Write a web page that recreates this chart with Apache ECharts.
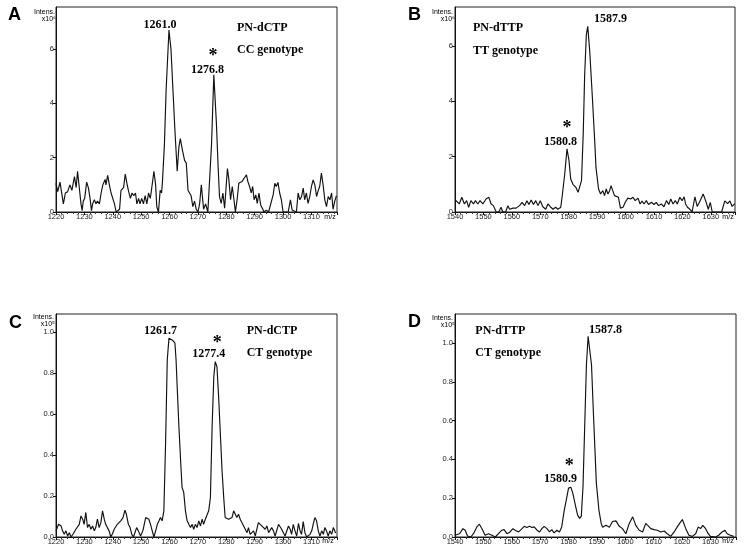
<!DOCTYPE html>
<html><head><meta charset="utf-8">
<script src="https://cdn.jsdelivr.net/npm/echarts@6/dist/echarts.min.js"></script>
<style>html,body{margin:0;padding:0;background:#fff}#c{width:746px;height:559px}</style>
</head><body><div id="c"></div>
<script>
// ---------- Panel A: PN-dCTP, CC genotype (x10^6) ----------
const mzA = [1220.0,1220.6,1221.4,1222.6,1223.3,1224.1,1224.9,1225.6,1226.5,1227.1,1227.6,1228.2,1228.8,1229.2,1229.6,1230.1,1230.8,1231.4,1232.0,1232.5,1232.9,1233.5,1234.1,1234.6,1235.3,1235.9,1236.5,1237.3,1237.6,1238.2,1238.8,1239.4,1240.0,1240.6,1241.2,1241.8,1242.4,1242.9,1243.8,1244.4,1244.9,1245.5,1246.2,1246.8,1247.4,1248.0,1248.5,1249.1,1249.6,1250.2,1250.8,1251.4,1252.0,1252.6,1253.2,1253.5,1254.5,1255.1,1255.5,1256.1,1256.7,1257.2,1257.5,1258.2,1258.8,1259.8,1260.5,1261.2,1261.9,1262.7,1263.3,1263.8,1264.5,1265.3,1265.9,1266.5,1267.1,1267.6,1268.2,1268.8,1269.4,1270.0,1270.6,1271.2,1272.0,1272.7,1273.5,1274.1,1274.8,1275.6,1276.5,1277.1,1277.6,1278.2,1278.8,1279.4,1280.4,1280.9,1281.5,1282.1,1282.7,1283.2,1283.8,1284.4,1284.9,1285.5,1286.2,1287.1,1287.6,1288.2,1288.8,1289.3,1289.8,1290.4,1290.9,1291.5,1292.1,1292.7,1293.3,1294.1,1294.9,1295.6,1296.5,1297.1,1297.6,1298.2,1298.8,1299.4,1300.0,1300.8,1301.8,1302.6,1303.2,1303.9,1304.7,1305.3,1305.9,1306.5,1307.1,1307.6,1308.2,1308.8,1309.4,1310.0,1310.6,1311.2,1311.8,1312.4,1312.9,1313.5,1314.1,1314.7,1315.3,1315.9,1316.5,1317.1,1317.6,1318.2,1318.8];
const intA = [1.05,0.75,1.1,0.3,0.7,0.75,1.0,0.8,1.3,0.9,1.5,0.9,0.3,0.05,0.4,0.5,1.1,0.9,0.5,0.05,0.3,0.45,0.3,0.4,0.3,0.7,1.0,1.2,1.0,1.35,1.0,0.7,0.7,0.3,0,0,0.1,0.8,0.9,1.4,1.1,0.8,0.5,0.7,0.6,0.7,0.3,0.5,0.3,0.5,0.3,0.6,0.3,0.7,0.5,0.7,1.5,1.0,0.2,0,0.8,0.7,1.1,2.5,4.5,6.7,6.0,4.5,3.0,1.5,2.4,2.7,2.3,1.9,1.8,0.8,0.75,0.6,0.2,0.4,0.1,0,0.3,1.0,0.1,0.3,0,0,2.5,5.05,3.3,1.7,0.57,0.32,0.7,0.14,1.6,1.2,0.45,0.94,0.45,0,0.45,1.06,1.0,1.12,1.06,1.37,1.12,0.94,0.7,0.94,0.45,0.63,0.32,0.7,0.26,0.14,0,0.07,0,0,0.63,1.06,0.94,1.09,0.7,0.45,0,0,0,0.45,0.07,0,0,0.7,0.45,0.57,0.88,0.45,0.7,0.32,0.57,0.94,1.18,1.0,0.57,0.8,0.94,1.43,1.0,0.45,0.2,0.57,0.45,0.7,0.1,0.4,0.6];

// ---------- Panel B: PN-dTTP, TT genotype (x10^6) ----------
const mzB = [1540.0,1540.6,1541.5,1542.4,1543.3,1544.1,1544.8,1545.6,1546.5,1547.2,1548.0,1548.8,1549.8,1550.9,1551.9,1552.7,1553.5,1554.5,1555.4,1556.2,1556.8,1557.8,1558.6,1559.2,1560.4,1561.5,1562.7,1563.6,1564.5,1565.3,1566.0,1566.8,1567.6,1568.4,1569.2,1570.0,1570.9,1571.9,1572.7,1573.5,1574.5,1575.4,1576.2,1577.2,1577.8,1578.6,1579.4,1580.1,1580.7,1581.5,1582.5,1583.3,1583.9,1584.5,1585.1,1585.6,1586.2,1586.7,1587.4,1588.4,1589.2,1589.6,1590.5,1591.2,1592.0,1592.6,1593.2,1593.8,1594.4,1594.9,1595.5,1596.1,1596.7,1597.5,1598.2,1599.1,1599.9,1600.8,1601.8,1602.6,1603.4,1604.4,1605.1,1605.8,1606.5,1607.3,1608.1,1609.1,1610.0,1610.8,1611.6,1612.6,1613.5,1614.4,1615.2,1615.9,1616.7,1617.5,1618.2,1619.1,1619.9,1620.6,1621.1,1621.8,1622.6,1623.4,1624.4,1625.2,1626.0,1627.3,1628.2,1629.1,1629.8,1630.5,1633.8,1634.9,1635.9,1636.7,1637.5,1638.4];
const intB = [0.45,0.47,0.29,0.53,0.29,0.41,0.17,0.41,0.29,0.41,0.29,0.41,0.29,0.47,0.53,0.29,0.23,0,0,0.17,0,0,0.23,0.1,0.14,0.14,0.23,0.35,0.23,0.41,0.27,0.43,0.27,0.41,0.23,0.41,0.19,0.1,0.29,0.19,0.1,0.17,0.1,0.17,0.65,1.37,2.28,1.86,1.19,1.0,0.89,0.71,0.67,1.13,2.8,4.9,6.4,6.7,5.8,4.0,2.46,1.6,0.83,0.65,0.77,0.59,0.83,0.65,0.77,0.95,0.77,0.59,0.55,0.53,0.14,0.17,0.35,0.5,0.47,0.53,0.41,0.5,0.29,0.39,0.29,0.41,0.27,0.35,0.27,0.35,0.23,0.29,0.19,0.41,0.27,0.47,0.29,0.41,0.29,0.53,0.41,0.55,0.29,0.17,0.1,0,0.55,0.2,0.35,0.65,0.4,0.1,0.35,0,0,0.4,0.3,0.4,0.2,0.3];

// ---------- Panel C: PN-dCTP, CT genotype ----------
const mzC = [1220.0,1220.9,1221.8,1222.3,1222.9,1223.5,1224.1,1224.7,1225.3,1226.1,1227.0,1227.6,1228.2,1228.8,1229.4,1229.9,1230.5,1231.1,1231.7,1232.3,1232.9,1233.5,1234.0,1234.6,1235.2,1235.8,1236.4,1237.0,1237.5,1238.1,1238.7,1239.3,1239.9,1240.5,1241.1,1241.6,1242.2,1242.8,1243.6,1244.3,1244.8,1245.5,1246.1,1246.7,1247.3,1247.8,1248.4,1249.0,1249.8,1250.6,1251.6,1252.2,1252.7,1253.3,1253.9,1254.5,1255.1,1255.7,1256.3,1256.8,1257.4,1258.0,1258.6,1259.2,1259.8,1260.4,1261.2,1261.9,1262.3,1262.8,1263.3,1263.9,1264.4,1265.0,1265.6,1266.2,1266.8,1267.4,1268.0,1268.5,1269.1,1269.7,1270.3,1270.9,1271.5,1272.0,1272.6,1273.2,1273.8,1274.4,1275.0,1275.6,1276.1,1276.7,1277.3,1277.9,1278.5,1279.1,1279.6,1280.2,1280.8,1281.4,1282.0,1282.6,1283.2,1283.7,1284.3,1284.9,1285.5,1286.1,1286.7,1287.3,1287.8,1288.4,1289.0,1289.6,1290.2,1290.8,1291.3,1291.9,1292.5,1293.1,1293.7,1294.3,1294.9,1295.4,1296.0,1296.6,1297.2,1298.4,1298.9,1299.5,1300.1,1300.7,1301.3,1301.9,1302.5,1303.0,1303.6,1304.2,1304.8,1305.4,1306.0,1306.5,1307.1,1307.7,1308.3,1309.5,1310.1,1310.6,1311.2,1311.8,1312.4,1313.0,1313.6,1314.2,1314.7,1315.3,1315.9,1316.5,1317.1,1317.7,1318.5];
const intC = [0.03,0.062,0.054,0.03,0.013,0.03,0.005,0.021,0,0.016,0.038,0.033,0.062,0.103,0.087,0.062,0.12,0.046,0.062,0.038,0.054,0.03,0.046,0.087,0.046,0.07,0.128,0.087,0.062,0.046,0.03,0,0.016,0.038,0.046,0.062,0.054,0.079,0.095,0.131,0.111,0.062,0.046,0.013,0,0.021,0.046,0.03,0.005,0.03,0.095,0.103,0.087,0.062,0.03,0,0.03,0.062,0.079,0.095,0.079,0.128,0.456,0.866,0.972,0.967,0.96,0.948,0.866,0.70,0.54,0.374,0.243,0.218,0.128,0.079,0.062,0.046,0.062,0.038,0.062,0.046,0.079,0.054,0.087,0.062,0.087,0.079,0.128,0.193,0.54,0.784,0.857,0.833,0.685,0.505,0.325,0.19,0.095,0.087,0.087,0.095,0.095,0.128,0.12,0.095,0.111,0.087,0.079,0.054,0.046,0.021,0.046,0.013,0.005,0.03,0.005,0,0.07,0.062,0.054,0.046,0.038,0.054,0.021,0.013,0.046,0.03,0.005,0.062,0.062,0.038,0.046,0.005,0.005,0.054,0.038,0.013,0.062,0.03,0.005,0.066,0.03,0.013,0.075,0.021,0,0.013,0.03,0.062,0.095,0.079,0.03,0.005,0.03,0.013,0.046,0.03,0.005,0.03,0.013,0.046,0.02];

// ---------- Panel D: PN-dTTP, CT genotype ----------
const mzD = [1540.0,1541.6,1542.8,1543.6,1544.4,1545.6,1546.5,1547.7,1548.6,1549.5,1550.6,1551.8,1553.0,1554.2,1555.3,1556.5,1557.3,1558.3,1559.4,1560.4,1561.2,1562.4,1563.6,1564.4,1565.3,1566.3,1567.1,1567.9,1568.9,1569.8,1570.6,1571.4,1572.4,1573.3,1574.1,1574.9,1575.9,1576.8,1577.6,1578.5,1579.2,1580.0,1580.8,1581.5,1582.4,1583.2,1583.9,1584.5,1585.1,1585.7,1586.3,1586.9,1587.5,1588.1,1588.7,1589.3,1589.8,1590.7,1591.5,1592.0,1593.2,1594.4,1595.5,1596.7,1597.9,1599.0,1600.2,1601.4,1602.6,1603.7,1604.9,1606.1,1607.2,1607.9,1609.0,1610.1,1611.3,1612.5,1613.7,1614.8,1616.0,1617.2,1618.3,1619.5,1620.1,1621.3,1622.4,1623.6,1624.8,1625.7,1626.5,1627.3,1628.3,1629.2,1630.0,1631.8,1632.9,1634.1,1635.1,1635.9,1637.0,1638.2];
const intD = [0.009,0.017,0.043,0.035,0.005,0,0.017,0.052,0.066,0.043,0.009,0.017,0.009,0,0.017,0.035,0.038,0.017,0.026,0.043,0.035,0.026,0.043,0.055,0.049,0.055,0.049,0.052,0.035,0.026,0.043,0.055,0.043,0.026,0.038,0.021,0.035,0.026,0.052,0.139,0.19,0.252,0.257,0.226,0.165,0.113,0.096,0.108,0.26,0.574,0.887,1.035,1.026,0.887,0.661,0.452,0.278,0.139,0.07,0.05,0.06,0.05,0.08,0.083,0.055,0.043,0.017,0.07,0.104,0.06,0.035,0.026,0.07,0.078,0.043,0.038,0.035,0.026,0.031,0.017,0.003,0.026,0.052,0.078,0.09,0.043,0.009,0.003,0.017,0.052,0.043,0.06,0.043,0.017,0.003,0,0.009,0.026,0.035,0.017,0.009,0.003];

// ---------- axis ranges and tick labels ----------
const xRangeCTP = [1220, 1319];
const xRangeTTP_B = [1540, 1638.5];
const xRangeTTP_D = [1540, 1639];
const yMaxA = 7.55, yMaxB = 7.4, yMaxC = 1.09, yMaxD = 1.15;
const yTicksAB = [0, 2, 4, 6];
const yTicksCD = [0, 0.2, 0.4, 0.6, 0.8, 1.0];

const zip = (xs, ys) => xs.map((x, i) => [x, ys[i]]);

const SANS = '"Liberation Sans", Arial, Helvetica, sans-serif';
const SERIF = '"Liberation Serif", "Times New Roman", serif';

const grids = [
  {left: 56, top: 7, width: 281, height: 205},
  {left: 455, top: 7, width: 280, height: 205},
  {left: 56, top: 314, width: 281, height: 223},
  {left: 455, top: 314, width: 281, height: 223}
].map(g => Object.assign(g, {show: true, borderColor: '#222', borderWidth: 1, backgroundColor: 'transparent', containLabel: false}));

function xAxis(idx, range) {
  return {
    type: 'value', gridIndex: idx, min: range[0], max: range[1], interval: 10,
    axisLine: {show: true, onZero: false, lineStyle: {color: '#111', width: 1}},
    axisTick: {show: true, length: 3, lineStyle: {color: '#111'}},
    minorTick: {show: true, splitNumber: 5, length: 2, lineStyle: {color: '#333'}},
    splitLine: {show: false},
    axisLabel: {show: true, margin: 1, fontSize: 7.5, fontFamily: SANS, color: '#222', showMaxLabel: false,
      formatter: v => (v % 10 === 0 ? String(v) : '')}
  };
}
function yAxis(idx, max, ticks, dec) {
  return {
    type: 'value', gridIndex: idx, min: 0, max: max, interval: ticks[1] - ticks[0],
    axisLine: {show: true, onZero: false, lineStyle: {color: '#111', width: 1}},
    axisTick: {show: true, length: 3, lineStyle: {color: '#111'}},
    splitLine: {show: false},
    axisLabel: {show: true, margin: 2, fontSize: 7.5, fontFamily: SANS, color: '#222', showMaxLabel: false,
      formatter: v => (ticks.some(t => Math.abs(t - v) < 1e-6) ? v.toFixed(dec) : '')}
  };
}
function series(idx, data) {
  return {type: 'line', xAxisIndex: idx, yAxisIndex: idx, data: data, showSymbol: false, symbol: 'none',
    lineStyle: {color: '#111', width: 1.15}, animation: false, clip: true};
}

function txt(x, y, text, font, align, valign) {
  return {type: 'text', x: x, y: y, silent: true,
    style: {text: text, font: font, fill: '#000', textAlign: align || 'center', textVerticalAlign: valign || 'middle'}};
}
const fAnn = 'bold 12px ' + SERIF;
const fStar = 'bold 18px ' + SERIF;
const fLet = 'bold 18px ' + SANS;
const fSm = '7px ' + SANS;

const graphics = [
  // panel letters
  txt(8, 15.5, 'A', fLet, 'left'), txt(408, 15.5, 'B', fLet, 'left'),
  txt(9, 323, 'C', fLet, 'left'), txt(408, 322, 'D', fLet, 'left'),
  // intensity labels
  txt(55, 12.5, 'Intens.', fSm, 'right'), txt(56, 19.5, 'x10\u2076', fSm, 'right'),
  txt(453, 12, 'Intens.', fSm, 'right'), txt(455, 19.5, 'x10\u2076', fSm, 'right'),
  txt(54, 317.5, 'Intens.', fSm, 'right'), txt(55, 324.5, 'x10\u2075', fSm, 'right'),
  txt(453, 318, 'Intens.', fSm, 'right'), txt(455, 325, 'x10\u2075', fSm, 'right'),
  // m/z
  txt(330, 217.5, 'm/z', fSm), txt(728, 217.5, 'm/z', fSm),
  txt(328, 541, 'm/z', fSm), txt(728, 541, 'm/z', fSm),
  // A
  txt(160, 25, '1261.0', fAnn), txt(213, 56.5, '*', fStar), txt(207.5, 70, '1276.8', fAnn),
  txt(237, 28, 'PN-dCTP', fAnn, 'left'), txt(237, 50, 'CC genotype', fAnn, 'left'),
  // B
  txt(610.5, 19, '1587.9', fAnn), txt(567, 128.5, '*', fStar), txt(560.5, 142, '1580.8', fAnn),
  txt(473, 28, 'PN-dTTP', fAnn, 'left'), txt(473, 50.5, 'TT genotype', fAnn, 'left'),
  // C
  txt(160.5, 330.5, '1261.7', fAnn), txt(217.3, 343, '*', fStar), txt(208.8, 353.5, '1277.4', fAnn),
  txt(246.7, 330.5, 'PN-dCTP', fAnn, 'left'), txt(246.7, 353, 'CT genotype', fAnn, 'left'),
  // D
  txt(605.5, 329.5, '1587.8', fAnn), txt(569.3, 466.5, '*', fStar), txt(560.5, 479, '1580.9', fAnn),
  txt(475.3, 331, 'PN-dTTP', fAnn, 'left'), txt(475.3, 352.5, 'CT genotype', fAnn, 'left')
];

const chart = echarts.init(document.getElementById('c'), null, {renderer: 'canvas'});
chart.setOption({
  animation: false,
  backgroundColor: '#fff',
  grid: grids,
  xAxis: [xAxis(0, xRangeCTP), xAxis(1, xRangeTTP_B), xAxis(2, xRangeCTP), xAxis(3, xRangeTTP_D)],
  yAxis: [yAxis(0, yMaxA, yTicksAB, 0), yAxis(1, yMaxB, yTicksAB, 0), yAxis(2, yMaxC, yTicksCD, 1), yAxis(3, yMaxD, yTicksCD, 1)],
  series: [series(0, zip(mzA, intA)), series(1, zip(mzB, intB)), series(2, zip(mzC, intC)), series(3, zip(mzD, intD))],
  graphic: graphics
});
</script></body></html>
